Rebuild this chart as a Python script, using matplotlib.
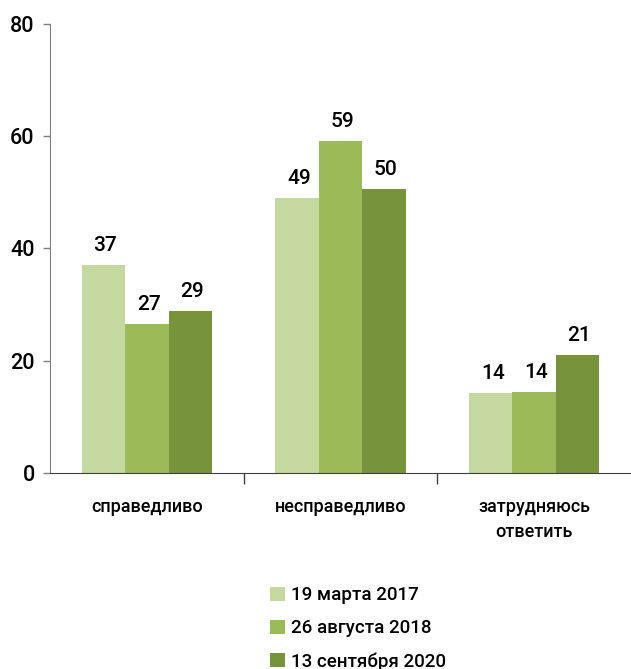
import numpy as np
import matplotlib
matplotlib.use('Agg')
import matplotlib.pyplot as plt

# data
categories = ['справедливо', 'несправедливо', 'затрудняюсь\nответить']
series_names = ['19 марта 2017', '26 августа 2018', '13 сентября 2020']
heights = [
    [37.0, 49.0, 14.2],
    [26.6, 59.2, 14.5],
    [28.8, 50.6, 21.0],
]
labels = [
    ['37', '49', '14'],
    ['27', '59', '14'],
    ['29', '50', '21'],
]
colors = ['#c5d89f', '#9bbb59', '#77933c']
yticks = [0, 20, 40, 60, 80]

plt.rcParams['font.family'] = ['Roboto', 'DejaVu Sans']
plt.rcParams['font.weight'] = 'medium'

fig = plt.figure(figsize=(6.31, 6.69), dpi=100)
ax = fig.add_axes([50 / 631, 1 - 473 / 669, 581 / 631, 449 / 669])

x = np.arange(len(categories))
w = 0.224
for i, (h, lab, c) in enumerate(zip(heights, labels, colors)):
    pos = x + (i - 1) * w
    ax.bar(pos, h, width=w, color=c, label=series_names[i], zorder=2)
    for px, py, t in zip(pos, h, lab):
        ax.text(px + 0.01, py + 1.8, t, ha='center', va='bottom', fontsize=15)

ax.set_xlim(-0.5, 2.5)
ax.set_ylim(0, 80)
ax.set_yticks(yticks)
ax.set_yticklabels([str(v) for v in yticks], fontsize=15.5)
ax.tick_params(axis='y', length=5, width=1, color='#808080', pad=6)

ax.set_xticks(x)
ax.set_xticklabels(categories, fontsize=13, linespacing=1.5)
ax.tick_params(axis='x', length=0, pad=18)
# boundary tick marks between groups
ax.set_xticks([0.5, 1.5], minor=True)
ax.tick_params(axis='x', which='minor', length=8, width=1, color='#404040')

for s in ['top', 'right']:
    ax.spines[s].set_visible(False)
ax.spines['left'].set_color('#808080')
ax.spines['bottom'].set_color('#404040')

ax.legend(loc='upper left', bbox_to_anchor=(261 / 631, 92 / 669), bbox_transform=fig.transFigure,
          frameon=False, fontsize=13.5, handlelength=0.78, handleheight=0.78,
          handletextpad=0.3, labelspacing=0.8, borderpad=0)

fig.savefig('out.png', dpi=100)
